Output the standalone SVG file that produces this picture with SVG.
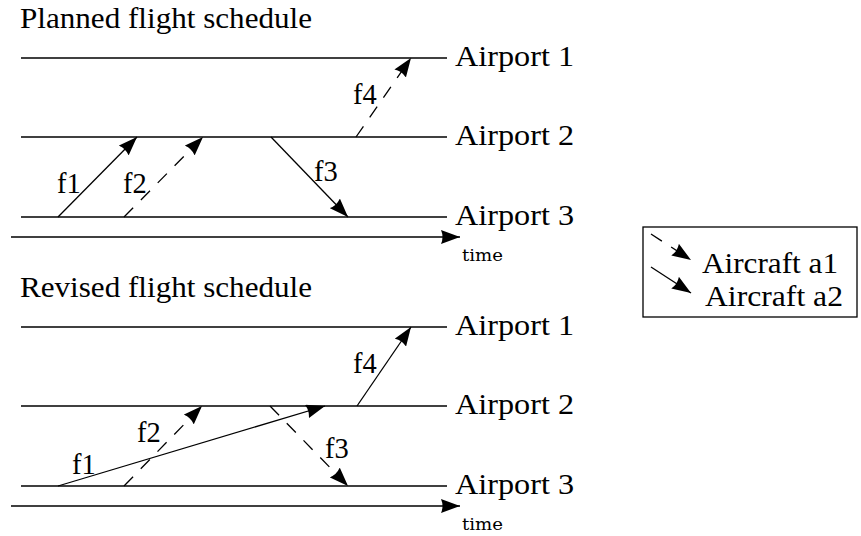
<svg xmlns="http://www.w3.org/2000/svg" width="861" height="536" viewBox="0 0 861 536">
  <style>
    text { font-family: "Liberation Serif", "DejaVu Serif", serif; fill: #000; }
    .big { font-size: 28.5px; }
    .small { font-family: "DejaVu Serif", "Liberation Serif", serif; font-size: 16px; }
    .track { stroke: #000; stroke-width: 1.4; fill: none; }
    .flight { stroke: #000; stroke-width: 1.3; fill: none; marker-end: url(#arrow); }
    .dashed { stroke-dasharray: 13 11; }
    .frame { stroke: #000; stroke-width: 1.3; fill: #fff; }
  </style>
  <defs>
    <marker id="arrow" markerUnits="userSpaceOnUse" markerWidth="19" markerHeight="14" viewBox="0 0 19 14" refX="19" refY="7" orient="auto">
      <path d="M0,0 L19,7 L0,14 Q3,7 0,0 Z" fill="#000"/>
    </marker>
  </defs>

  <rect width="861" height="536" fill="#fff"/>

  <!-- Planned schedule -->
  <g id="planned">
    <text id="title-planned" class="big" x="20" y="28" textLength="292" lengthAdjust="spacingAndGlyphs">Planned flight schedule</text>
    <g id="p-airport1">
      <line class="track" x1="21" y1="58" x2="447" y2="58"/>
      <text class="big" x="455" y="66" textLength="119" lengthAdjust="spacingAndGlyphs">Airport 1</text>
    </g>
    <g id="p-airport2">
      <line class="track" x1="21" y1="137" x2="447" y2="137"/>
      <text class="big" x="455" y="145" textLength="119" lengthAdjust="spacingAndGlyphs">Airport 2</text>
    </g>
    <g id="p-airport3">
      <line class="track" x1="21" y1="217" x2="447" y2="217"/>
      <text class="big" x="455" y="225" textLength="119" lengthAdjust="spacingAndGlyphs">Airport 3</text>
    </g>
    <g id="p-time">
      <line class="flight" x1="11" y1="237" x2="460" y2="237"/>
      <text class="small" x="462" y="261" textLength="41" lengthAdjust="spacingAndGlyphs">time</text>
    </g>
  </g>
  <g id="planned-connectors">
    <line class="flight" x1="58" y1="217" x2="137" y2="137"/>
    <line class="flight dashed" x1="124" y1="217" x2="203" y2="137"/>
    <line class="flight" x1="271" y1="137" x2="348" y2="217"/>
    <line class="flight dashed" x1="356" y1="137" x2="411" y2="58"/>
    <text class="big" x="57" y="193">f1</text>
    <text class="big" x="123" y="193">f2</text>
    <text class="big" x="314" y="181">f3</text>
    <text class="big" x="353" y="104">f4</text>
  </g>

  <!-- Revised schedule -->
  <g id="revised">
    <text id="title-revised" class="big" x="20" y="297" textLength="292" lengthAdjust="spacingAndGlyphs">Revised flight schedule</text>
    <g id="r-airport1">
      <line class="track" x1="21" y1="327" x2="447" y2="327"/>
      <text class="big" x="455" y="335" textLength="119" lengthAdjust="spacingAndGlyphs">Airport 1</text>
    </g>
    <g id="r-airport2">
      <line class="track" x1="21" y1="406" x2="447" y2="406"/>
      <text class="big" x="455" y="414" textLength="119" lengthAdjust="spacingAndGlyphs">Airport 2</text>
    </g>
    <g id="r-airport3">
      <line class="track" x1="21" y1="486" x2="447" y2="486"/>
      <text class="big" x="455" y="494" textLength="119" lengthAdjust="spacingAndGlyphs">Airport 3</text>
    </g>
    <g id="r-time">
      <line class="flight" x1="11" y1="506" x2="460" y2="506"/>
      <text class="small" x="462" y="530" textLength="41" lengthAdjust="spacingAndGlyphs">time</text>
    </g>
  </g>
  <g id="revised-connectors">
    <line class="flight" x1="58" y1="486" x2="325" y2="406"/>
    <line class="flight dashed" x1="124" y1="486" x2="202" y2="406"/>
    <line class="flight dashed" x1="270" y1="406" x2="348" y2="486"/>
    <line class="flight" x1="357" y1="406" x2="411" y2="327"/>
    <text class="big" x="72" y="474">f1</text>
    <text class="big" x="137" y="442">f2</text>
    <text class="big" x="325" y="458">f3</text>
    <text class="big" x="353" y="373">f4</text>
  </g>

  <!-- Legend -->
  <g id="legend">
    <rect class="frame" x="643" y="227" width="214" height="90"/>
    <line class="flight dashed" x1="651" y1="234" x2="691" y2="260"/>
    <line class="flight" x1="651" y1="267" x2="691" y2="293"/>
    <text class="big" x="702" y="273" textLength="136" lengthAdjust="spacingAndGlyphs">Aircraft a1</text>
    <text class="big" x="705" y="306" textLength="138" lengthAdjust="spacingAndGlyphs">Aircraft a2</text>
  </g>
</svg>
